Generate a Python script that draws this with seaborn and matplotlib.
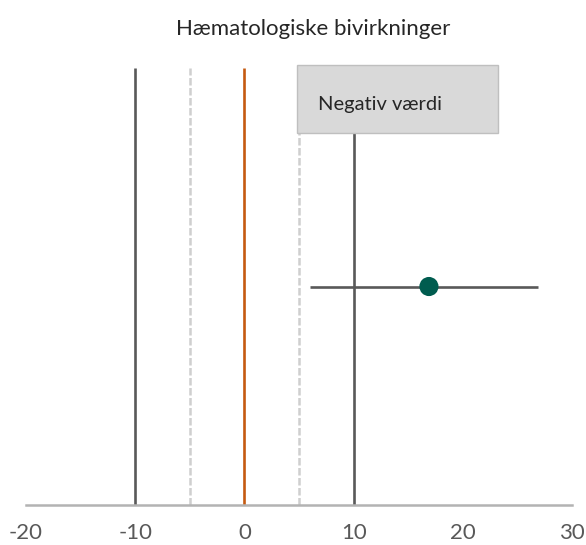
import numpy as np
import pandas as pd
import seaborn as sns
import matplotlib.pyplot as plt
from matplotlib.patches import Rectangle

# reference lines
solid_lines = [-10, 10]
dashed_lines = [-5, 5]
zero_line = [0]

# estimate with interval
estimate = [16.9]
ci_low = [6.0]
ci_high = [26.9]
est_y = [0.5]

xticks = [-20, -10, 0, 10, 20, 30]
title = "Hæmatologiske bivirkninger"
box_label = "Negativ værdi"

sns.set_theme(style="white")
plt.rcParams['font.family'] = ['Lato', 'DejaVu Sans']

fig = plt.figure(figsize=(5.86, 5.45), dpi=100)
ax = fig.add_axes([26/586, 40/545, 546/586, 0.8178])

ax.vlines(solid_lines, 0, 1, color="#595959", lw=1.9, zorder=2)
ax.vlines(dashed_lines, 0, 1, color="#cfcfcf", lw=1.8, linestyles=(0, (3, 1)), zorder=2)
ax.vlines(zero_line, 0, 1, color="#c55a11", lw=1.9, zorder=2)

# box over the top of the +10 line
ax.add_patch(Rectangle((4.85, 0.851), 18.35, 0.157, facecolor="#d9d9d9",
                       edgecolor="#bfbfbf", lw=1, zorder=3, clip_on=False))
ax.text(6.75, 0.904, box_label, fontsize=14.5, color="#262626", va="baseline", zorder=4)

ax.hlines(est_y, ci_low, ci_high, color="#595959", lw=1.9, zorder=4)
df = pd.DataFrame({"x": estimate, "y": est_y})
sns.scatterplot(data=df, x="x", y="y", s=190, color="#005c4f", edgecolor="none",
                zorder=5, ax=ax)

ax.set_xlim(-20, 30)
ax.set_ylim(0, 1.02)
ax.set_xticks(xticks)
ax.set_xticklabels([str(t) for t in xticks], fontsize=16, color="#595959")
ax.set_yticks([])
ax.set_xlabel("")
ax.set_ylabel("")
for s in ["top", "right", "left"]:
    ax.spines[s].set_visible(False)
ax.spines["bottom"].set_color("#b3b3b3")
ax.spines["bottom"].set_linewidth(1.8)
ax.tick_params(axis="x", length=0, pad=13)

fig.text(313/586, 1 - 35/545, title, ha="center", va="baseline", fontsize=16, color="#262626")

fig.savefig("out.png", dpi=100)
